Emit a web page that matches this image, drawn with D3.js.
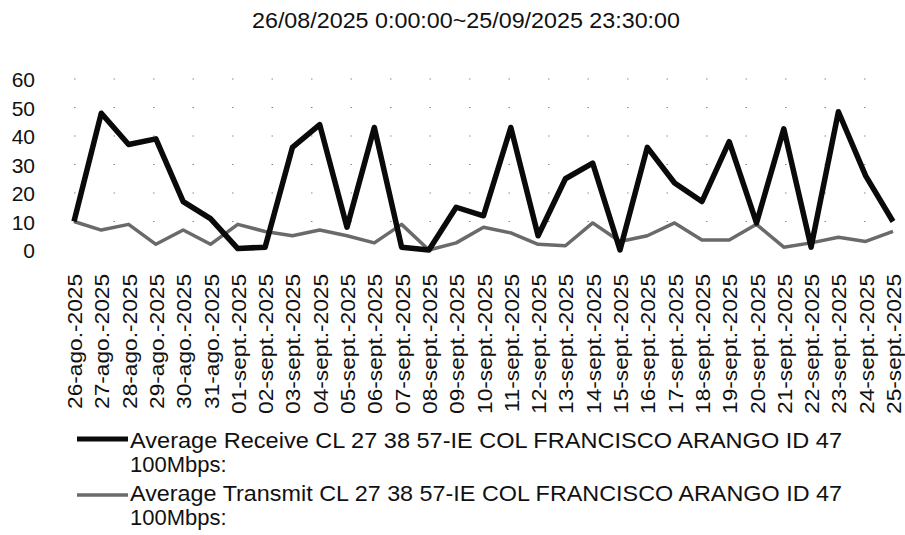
<!DOCTYPE html>
<html>
<head>
<meta charset="utf-8">
<script src="https://cdn.jsdelivr.net/npm/d3@7/dist/d3.min.js"></script>
<style>
  html, body { margin: 0; padding: 0; background: #fff; }
  svg { display: block; }
  text { font-family: "Liberation Sans", Arial, sans-serif; fill: #111; }
</style>
</head>
<body>
<svg id="chart" width="905" height="535"></svg>
<script>
const title = "26/08/2025 0:00:00~25/09/2025 23:30:00";
const categories = [
  "26-ago.-2025","27-ago.-2025","28-ago.-2025","29-ago.-2025","30-ago.-2025","31-ago.-2025",
  "01-sept.-2025","02-sept.-2025","03-sept.-2025","04-sept.-2025","05-sept.-2025","06-sept.-2025",
  "07-sept.-2025","08-sept.-2025","09-sept.-2025","10-sept.-2025","11-sept.-2025","12-sept.-2025",
  "13-sept.-2025","14-sept.-2025","15-sept.-2025","16-sept.-2025","17-sept.-2025","18-sept.-2025",
  "19-sept.-2025","20-sept.-2025","21-sept.-2025","22-sept.-2025","23-sept.-2025","24-sept.-2025",
  "25-sept.-2025"
];
const receive = [10, 48, 37, 39, 17, 11, 0.5, 1, 36, 44, 8, 43, 1, 0, 15, 12, 43, 5, 25, 30.5, 0, 36, 23.5, 17, 38, 9.5, 42.5, 1, 48.5, 26, 10];
const transmit = [10, 7, 9, 2, 7, 2, 9, 6.5, 5, 7, 5, 2.5, 9, 0, 2.5, 8, 6, 2, 1.5, 9.5, 3, 5, 9.5, 3.5, 3.5, 9, 1, 2.5, 4.5, 3, 6.5];
const yTicks = [0, 10, 20, 30, 40, 50, 60];
const seriesNames = [
  ["Average Receive CL 27 38 57-IE COL FRANCISCO ARANGO ID 47", "100Mbps:"],
  ["Average Transmit CL 27 38 57-IE COL FRANCISCO ARANGO ID 47", "100Mbps:"]
];

const svg = d3.select("#chart");
const x = d3.scalePoint().domain(categories).range([74, 893]);
const y = d3.scaleLinear().domain([0, 60]).range([250, 79]);

// title
svg.append("text")
  .attr("x", 252).attr("y", 28)
  .attr("font-size", 22)
  .attr("textLength", 428).attr("lengthAdjust", "spacingAndGlyphs")
  .text(title);

// sparse dotted gridlines
svg.append("g").selectAll("line").data(yTicks.filter(d => d > 0)).join("line")
  .attr("x1", 74).attr("x2", 893)
  .attr("y1", d => y(d)).attr("y2", d => y(d))
  .attr("stroke", "#888").attr("stroke-width", 1)
  .attr("stroke-dasharray", "1.5,38");

// y axis (labels only)
const yAxis = d3.axisLeft(y).tickValues(yTicks).tickSize(0).tickPadding(0);
const gy = svg.append("g").attr("transform", "translate(35,0)").call(yAxis);
gy.select(".domain").remove();
gy.selectAll("text")
  .attr("font-size", 21)
  .attr("font-family", "Liberation Sans, Arial, sans-serif")
  .attr("fill", "#111")
  .attr("dy", "0.36em");

// x axis (rotated labels)
const xAxis = d3.axisBottom(x).tickSize(0).tickPadding(0);
const gx = svg.append("g").attr("transform", "translate(0,274)").call(xAxis);
gx.select(".domain").remove();
gx.selectAll("text")
  .attr("font-size", 21)
  .attr("font-family", "Liberation Sans, Arial, sans-serif")
  .attr("fill", "#111")
  .attr("text-anchor", "end")
  .attr("transform", "rotate(-90)")
  .attr("x", 0).attr("y", 0)
  .attr("dy", "0.36em")
  .each(function() {
    const len = this.getComputedTextLength();
    d3.select(this).attr("textLength", len * 1.08).attr("lengthAdjust", "spacingAndGlyphs");
  });

// lines
const line = d3.line().x((d, i) => x(categories[i])).y(d => y(d));
svg.append("path").datum(transmit)
  .attr("d", line).attr("fill", "none")
  .attr("stroke", "#6a6a6a").attr("stroke-width", 3.5)
  .attr("stroke-linejoin", "round");
svg.append("path").datum(receive)
  .attr("d", line).attr("fill", "none")
  .attr("stroke", "#0a0a0a").attr("stroke-width", 5.5)
  .attr("stroke-linejoin", "round");

// legend
const legendItems = [
  { name: seriesNames[0], color: "#0a0a0a", width: 5, ly: 439, ty: 448 },
  { name: seriesNames[1], color: "#6a6a6a", width: 3.5, ly: 495, ty: 501 }
];
const lg = svg.append("g");
legendItems.forEach(it => {
  lg.append("line").attr("x1", 77).attr("x2", 128)
    .attr("y1", it.ly).attr("y2", it.ly)
    .attr("stroke", it.color).attr("stroke-width", it.width);
  lg.append("text").attr("x", 130).attr("y", it.ty)
    .attr("font-size", 22)
    .attr("textLength", 712).attr("lengthAdjust", "spacingAndGlyphs")
    .text(it.name[0]);
  lg.append("text").attr("x", 130).attr("y", it.ty + 24)
    .attr("font-size", 22)
    .text(it.name[1]);
});
</script>
</body>
</html>
